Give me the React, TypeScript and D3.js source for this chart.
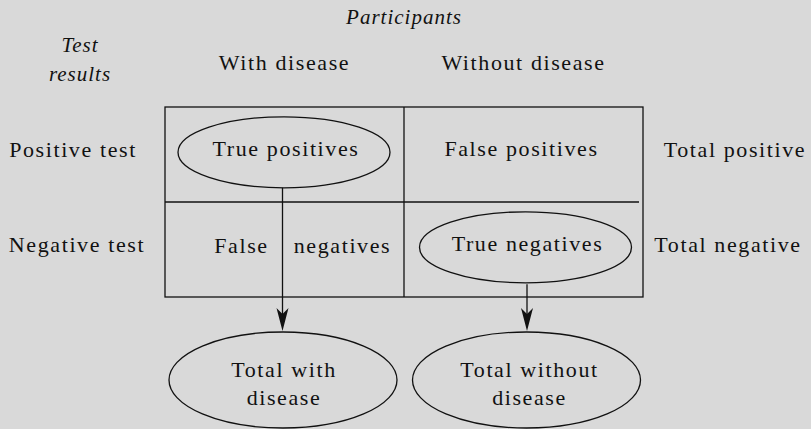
import React from 'react';
import * as d3 from 'd3';

// 2x2 diagnostic test table
const columns = ['With disease', 'Without disease'];
const rows = ['Positive test', 'Negative test'];
const rowTotals = ['Total positive', 'Total negative'];
const cells = [
  { row: 'Positive test', col: 'With disease', text: 'True positives', circled: true },
  { row: 'Positive test', col: 'Without disease', text: 'False positives', circled: false },
  { row: 'Negative test', col: 'With disease', text: 'False negatives', circled: false },
  { row: 'Negative test', col: 'Without disease', text: 'True negatives', circled: true },
];
const colTotals = [
  { col: 'With disease', lines: ['Total with', 'disease'] },
  { col: 'Without disease', lines: ['Total without', 'disease'] },
];

const W = 811;
const H = 429;
const FONT = 'Liberation Serif';
const INK = '#111';
const BG = '#d9d9d9';

const x = d3.scaleBand().domain(columns).range([165, 643]);
const y = d3.scaleBand().domain(rows).range([107, 297]);
const cx = (c: string) => (x(c) as number) + x.bandwidth() / 2;
const cy = (r: string) => (y(r) as number) + y.bandwidth() / 2;

const T = ({ x, y, children, ital = false }: any) => (
  <text
    x={x}
    y={y}
    textAnchor="middle"
    fontFamily={FONT}
    fontSize={ital ? 21 : 22}
    fontStyle={ital ? 'italic' : 'normal'}
    letterSpacing={ital ? 1 : 1.6}
    fill={INK}
  >
    {children}
  </text>
);

const arrowHead = (ax: number, tip: number) => {
  const p = d3.path();
  p.moveTo(ax - 6, tip - 23);
  p.lineTo(ax, tip - 17);
  p.lineTo(ax + 6, tip - 23);
  p.lineTo(ax, tip);
  p.closePath();
  return p.toString();
};

const App = () => {
  const [x0, x1] = x.range();
  const [y0, y1] = y.range();
  const totCy = 380;
  const totRy = 48;
  const cellRy = 35.5;

  return (
    <div style={{ position: 'absolute', left: 0, top: 0, width: W, height: H, background: BG }}>
      <svg width={W} height={H}>
        <rect width={W} height={H} fill={BG} />

        <T x={404} y={24} ital>Participants</T>
        <T x={80} y={52} ital>Test</T>
        <T x={80} y={81} ital>results</T>

        {columns.map(c => (
          <T key={c} x={cx(c)} y={70}>{c}</T>
        ))}
        {rows.map((r, i) => (
          <T key={r} x={i === 0 ? 73 : 77} y={cy(r) + 2.5}>{r}</T>
        ))}
        {rowTotals.map((t, i) => (
          <T key={t} x={i === 0 ? 735 : 728} y={cy(rows[i]) + 2}>{t}</T>
        ))}

        <g stroke={INK} strokeWidth={1.3} fill="none">
          <rect x={x0} y={y0} width={x1 - x0} height={y1 - y0} />
          <line x1={x(columns[1])} x2={x(columns[1])} y1={y0} y2={y1} />
          <line x1={x0} x2={x1 - 4} y1={y(rows[1])} y2={y(rows[1])} />
        </g>

        {cells.map(d => {
          const ccx = cx(d.col);
          const ccy = cy(d.row);
          if (d.circled) {
            const ex = ccx + (d.col === columns[0] ? -0.5 : 2);
            return (
              <g key={d.text}>
                <ellipse cx={ex} cy={ccy - 2.2} rx={106} ry={cellRy} fill="none" stroke={INK} strokeWidth={1.3} />
                <T x={ex + 2} y={ccy + 1}>{d.text}</T>
              </g>
            );
          }
          if (d.col === columns[0]) {
            // this cell's label is split by the arrow line
            const [a, b] = d.text.split(' ');
            return (
              <g key={d.text}>
                <T x={ccx - 43} y={ccy + 3.5}>{a}</T>
                <T x={ccx + 58} y={ccy + 3.5}>{b}</T>
              </g>
            );
          }
          return <T key={d.text} x={ccx - 2} y={ccy + 1.5}>{d.text}</T>;
        })}

        {colTotals.map(d => {
          const src = cells.find(c => c.col === d.col && c.circled)!;
          const first = d.col === columns[0];
          const ax = first ? cx(d.col) - 2 : cx(d.col) + 3.5;
          const start = cy(src.row) - 2.2 + cellRy + (first ? 0 : 1.5);
          const tip = totCy - totRy - 1;
          const ex = first ? cx(d.col) - 1.5 : cx(d.col) + 3;
          const tx = first ? ex + 1 : ex + 3;
          return (
            <g key={d.col}>
              <line x1={ax} x2={ax} y1={start} y2={tip - 12} stroke={INK} strokeWidth={1.3} />
              <path d={arrowHead(ax, tip)} fill={INK} />
              <ellipse cx={ex} cy={totCy} rx={114} ry={totRy} fill="none" stroke={INK} strokeWidth={1.3} />
              {d.lines.map((l, i) => (
                <T key={l} x={tx} y={377 + i * 28}>{l}</T>
              ))}
            </g>
          );
        })}
      </svg>
    </div>
  );
};

export default App;
